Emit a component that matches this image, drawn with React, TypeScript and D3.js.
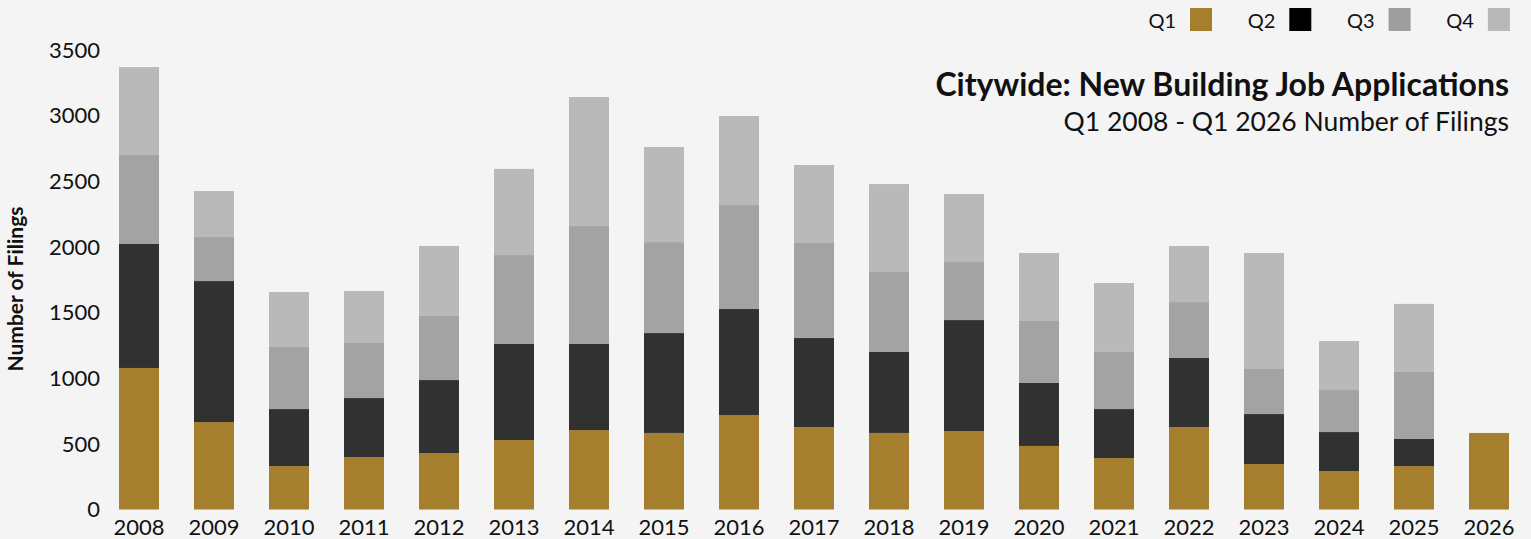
import React from "react";
import * as d3 from "d3";

const years = ["2008","2009","2010","2011","2012","2013","2014","2015","2016","2017","2018","2019","2020","2021","2022","2023","2024","2025","2026"];
const q1 = [1078, 666, 331, 400, 430, 529, 605, 583, 720, 628, 583, 598, 484, 392, 628, 346, 293, 331, 583];
const q2 = [947, 1074, 434, 449, 556, 732, 656, 761, 807, 678, 617, 845, 480, 373, 526, 381, 297, 206, 0];
const q3 = [675, 336, 473, 419, 488, 677, 898, 693, 792, 724, 609, 442, 472, 435, 426, 343, 320, 511, 0];
const q4 = [670, 350, 419, 397, 533, 656, 983, 724, 678, 594, 670, 518, 518, 525, 427, 884, 373, 518, 0];
const seriesNames = ["Q1", "Q2", "Q3", "Q4"];
const yTicks = [0, 500, 1000, 1500, 2000, 2500, 3000, 3500];

const barColors = ["#a67f2e", "#313131", "#a2a3a2", "#b8b9b8"];
const legendColors = ["#a67f2e", "#000000", "#9e9e9e", "#b8b8b8"];

const W = 1531, H = 539;
const FONT = "Lato, 'Open Sans', sans-serif";

export default function App() {
  const rows = years.map((y, i) => ({ year: y, Q1: q1[i], Q2: q2[i], Q3: q3[i], Q4: q4[i] }));
  const stack = d3.stack<any>().keys(seriesNames)(rows);
  const x = d3.scaleBand().domain(years).range([101.5, 1526.5]).paddingInner(35 / 75).paddingOuter(35 / 150);
  const y = d3.scaleLinear().domain([0, 3500]).range([509.5, 50]);

  return (
    <svg width={W} height={H} style={{ position: "absolute", left: 0, top: 0, display: "block" }} fontFamily={FONT}>
      <rect x={0} y={0} width={W} height={H} fill="#f3f4f3" />
      {stack.map((layer, si) => (
        <g key={layer.key} fill={barColors[si]}>
          {layer.map((d, i) => {
            const h = y(d[0]) - y(d[1]);
            if (h <= 0) return null;
            return <rect key={i} x={x(years[i])} y={y(d[1])} width={x.bandwidth()} height={h} />;
          })}
        </g>
      ))}
      {yTicks.map((t) => (
        <text key={t} x={100} y={y(t)} dy="0.35em" textAnchor="end" fontSize={22} fill="#111">{t}</text>
      ))}
      {years.map((yr) => (
        <text key={yr} x={(x(yr) as number) + x.bandwidth() / 2} y={535} textAnchor="middle" fontSize={22} fill="#111">{yr}</text>
      ))}
      <text transform={`translate(23,289) rotate(-90)`} textAnchor="middle" fontSize={21} fontWeight="bold" fill="#111">Number of Filings</text>
      <text x={1509} y={96} textAnchor="end" fontSize={32} fontWeight="bold" fill="#111">Citywide: New Building Job Applications</text>
      <text x={1509} y={131} textAnchor="end" fontSize={26.5} fill="#111">Q1 2008 - Q1 2026 Number of Filings</text>
      {seriesNames.map((s, i) => {
        const sx = 1190 + i * 99.3;
        return (
          <g key={s}>
            <text x={sx - 14} y={28} textAnchor="end" fontSize={20} fill="#111">{s}</text>
            <rect x={sx} y={8} width={22} height={23} fill={legendColors[i]} />
          </g>
        );
      })}
    </svg>
  );
}
